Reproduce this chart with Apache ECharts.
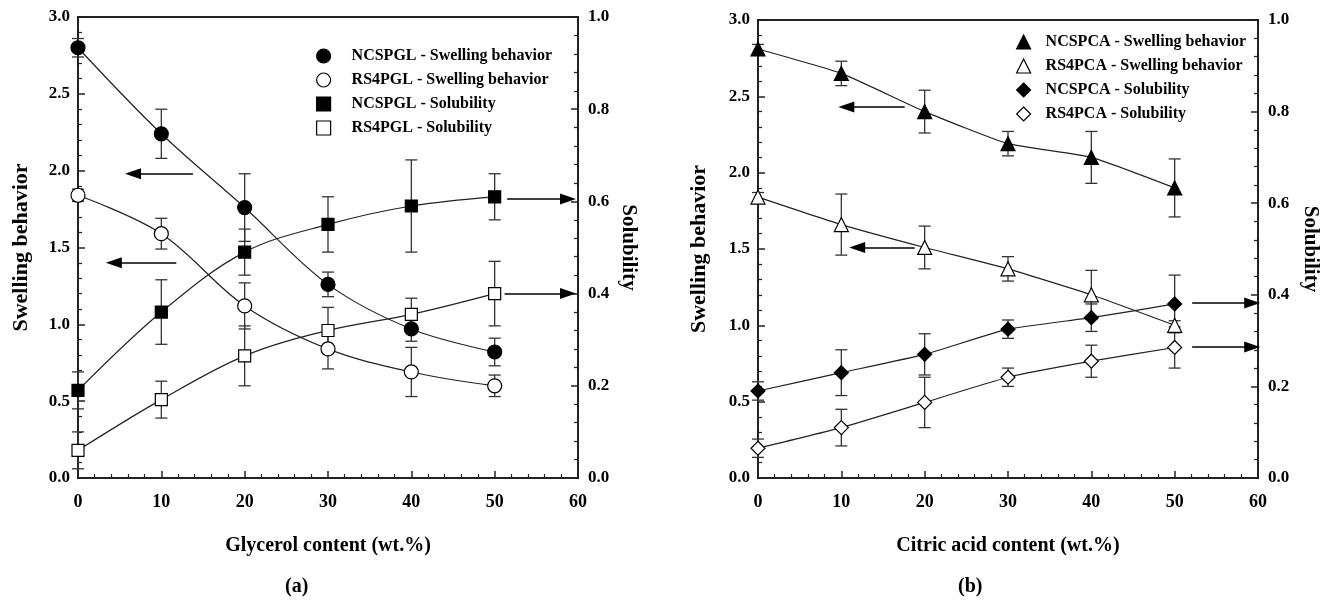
<!DOCTYPE html>
<html>
<head>
  <meta charset="utf-8">
  <title>Swelling behavior and solubility</title>
  <script src="https://cdn.jsdelivr.net/npm/echarts@6/dist/echarts.min.js"></script>
  <style>
    * { margin: 0; padding: 0; }
    html, body, #chart { width: 1333px; height: 610px; overflow: hidden; background: #fff; }
  </style>
</head>
<body>
  <div id="chart"></div>
  <script>
    // x values shared by both panels (wt.%)
    var xVals = [0, 10, 20, 30, 40, 50];

    // (a) glycerol
    var ncspglSwell = [2.80, 2.24, 1.76, 1.26, 0.97, 0.82];
    var ncspglSwellErr = [0.06, 0.16, 0.22, 0.08, 0.08, 0.09];
    var rs4pglSwell = [1.84, 1.59, 1.12, 0.84, 0.69, 0.60];
    var rs4pglSwellErr = [0.04, 0.10, 0.15, 0.13, 0.16, 0.07];
    var ncspglSol = [0.19, 0.36, 0.49, 0.55, 0.59, 0.61];
    var ncspglSolErr = [0.04, 0.07, 0.05, 0.06, 0.10, 0.05];
    var rs4pglSol = [0.06, 0.17, 0.265, 0.32, 0.355, 0.40];
    var rs4pglSolErr = [0.04, 0.04, 0.065, 0.05, 0.035, 0.07];

    // (b) citric acid
    var ncspcaSwell = [2.81, 2.65, 2.40, 2.19, 2.10, 1.90];
    var ncspcaSwellErr = [0.03, 0.08, 0.14, 0.08, 0.17, 0.19];
    var rs4pcaSwell = [1.84, 1.66, 1.51, 1.37, 1.20, 1.00];
    var rs4pcaSwellErr = [0.03, 0.20, 0.14, 0.08, 0.16, 0.03];
    var ncspcaSol = [0.19, 0.23, 0.27, 0.325, 0.35, 0.38];
    var ncspcaSolErr = [0.02, 0.05, 0.045, 0.02, 0.03, 0.063];
    var rs4pcaSol = [0.065, 0.11, 0.165, 0.22, 0.255, 0.285];
    var rs4pcaSolErr = [0.02, 0.04, 0.055, 0.02, 0.035, 0.045];

    // arrows pointing to the axis each curve belongs to: [xFrom, xTo, y]
    var arrowsA_left = [[13.8, 6.6, 1.98], [11.8, 4.3, 1.40]];
    var arrowsA_right = [[51.5, 58.8, 0.605], [51.2, 58.8, 0.40]];
    var arrowsB_left = [[17.6, 10.6, 2.43], [18.8, 11.9, 1.51]];
    var arrowsB_right = [[52.1, 59.3, 0.382], [52.1, 59.3, 0.286]];

    var FONT = "'Liberation Serif', 'Times New Roman', serif";

    function arrowMark(list) {
      return {
        silent: true,
        symbol: ['none', 'triangle'],
        symbolSize: [11, 16],
        label: { show: false },
        lineStyle: { color: '#000', width: 1.5, type: 'solid' },
        emphasis: { disabled: true },
        data: list.map(function (a) {
          return [{ coord: [a[0], a[2]] }, { coord: [a[1], a[2]] }];
        })
      };
    }

    function errSeries(grid, yi, ys, errs) {
      return {
        type: 'custom',
        xAxisIndex: grid,
        yAxisIndex: grid * 2 + yi,
        z: 1,
        silent: true,
        encode: { x: 0, y: 1 },
        data: xVals.map(function (x, i) { return [x, ys[i], errs[i]]; }),
        renderItem: function (params, api) {
          var x = api.value(0), y = api.value(1), e = api.value(2);
          var t = api.coord([x, y + e]), b = api.coord([x, y - e]);
          var w = 6, st = { stroke: '#333', lineWidth: 1.3 };
          return {
            type: 'group',
            children: [
              { type: 'line', shape: { x1: t[0], y1: t[1], x2: b[0], y2: b[1] }, style: st },
              { type: 'line', shape: { x1: t[0] - w, y1: t[1], x2: t[0] + w, y2: t[1] }, style: st },
              { type: 'line', shape: { x1: b[0] - w, y1: b[1], x2: b[0] + w, y2: b[1] }, style: st }
            ]
          };
        }
      };
    }

    function lineSeries(name, grid, yi, ys, symbol, filled, smooth, arrows) {
      var s = {
        name: name,
        type: 'line',
        xAxisIndex: grid,
        yAxisIndex: grid * 2 + yi,
        z: 3,
        smooth: smooth,
        symbol: symbol,
        symbolSize: symbol === 'rect' ? 12 : 14,
        showAllSymbol: true,
        data: xVals.map(function (x, i) { return [x, ys[i]]; }),
        itemStyle: { color: filled ? '#000' : '#fff', borderColor: '#000', borderWidth: 1.2 },
        lineStyle: { color: '#222', width: 1.2 },
        emphasis: { disabled: true }
      };
      if (arrows) s.markLine = arrowMark(arrows);
      return s;
    }

    function legendItem(name, icon, filled) {
      return {
        name: name, icon: icon,
        itemStyle: { color: filled ? '#000' : '#fff', borderColor: '#000', borderWidth: 1.2 }
      };
    }

    function xAxis(grid, name) {
      return {
        gridIndex: grid, type: 'value', min: 0, max: 60, interval: 10,
        name: name, nameLocation: 'middle', nameGap: 58,
        nameTextStyle: { fontFamily: FONT, fontWeight: 'bold', fontSize: 20, color: '#000' },
        axisLine: { onZero: false, lineStyle: { color: '#222', width: 2 } },
        axisTick: { inside: true, length: 7, lineStyle: { color: '#222', width: 1.5 } },
        minorTick: { show: true, splitNumber: 5, length: 4, lineStyle: { color: '#222', width: 1.2 } },
        axisLabel: { margin: 15, fontFamily: FONT, fontWeight: 'bold', fontSize: 18, color: '#000' },
        splitLine: { show: false }
      };
    }

    function yAxis(grid, pos, max, interval, name, gap, rot, size) {
      return {
        gridIndex: grid, type: 'value', position: pos, min: 0, max: max, interval: interval,
        name: name, nameLocation: 'middle', nameGap: gap, nameRotate: rot,
        nameTextStyle: { fontFamily: FONT, fontWeight: 'bold', fontSize: size, color: '#000' },
        axisLine: { show: true, onZero: false, lineStyle: { color: '#222', width: 2 } },
        axisTick: { inside: true, length: 7, lineStyle: { color: '#222', width: 1.5 } },
        minorTick: { show: true, splitNumber: 5, length: 4, lineStyle: { color: '#222', width: 1.2 } },
        axisLabel: {
          margin: pos === 'left' ? 8 : 10, fontFamily: FONT, fontWeight: 'bold', fontSize: 17, color: '#000',
          formatter: function (v) { return v.toFixed(1); }
        },
        splitLine: { show: false }
      };
    }

    var legendBase = {
      orient: 'vertical', itemWidth: 14, itemHeight: 14, itemGap: 8,
      selectedMode: false, inactiveColor: '#000'
    };

    var option = {
      animation: false,
      backgroundColor: '#fff',
      grid: [
        { left: 78, right: 755, top: 17, bottom: 132, show: true, borderColor: '#222', borderWidth: 2 },
        { left: 758, right: 75, top: 20, bottom: 132, show: true, borderColor: '#222', borderWidth: 2 }
      ],
      xAxis: [xAxis(0, 'Glycerol content (wt.%)'), xAxis(1, 'Citric acid content (wt.%)')],
      yAxis: [
        yAxis(0, 'left', 3, 0.5, 'Swelling behavior', 46, 90, 22),
        yAxis(0, 'right', 1, 0.2, 'Solubility', 40, -90, 21),
        yAxis(1, 'left', 3, 0.5, 'Swelling behavior', 48, 90, 22),
        yAxis(1, 'right', 1, 0.2, 'Solubility', 42, -90, 21)
      ],
      legend: [
        Object.assign({}, legendBase, {
          left: 311, top: 43,
          textStyle: { fontFamily: FONT, fontWeight: 'bold', fontSize: 16, color: '#000', padding: [0, 0, 0, 16] },
          data: [
            legendItem('NCSPGL - Swelling behavior', 'circle', true),
            legendItem('RS4PGL - Swelling behavior', 'circle', false),
            legendItem('NCSPGL - Solubility', 'rect', true),
            legendItem('RS4PGL - Solubility', 'rect', false)
          ]
        }),
        Object.assign({}, legendBase, {
          left: 1011, top: 29,
          textStyle: { fontFamily: FONT, fontWeight: 'bold', fontSize: 16, color: '#000', padding: [0, 0, 0, 10] },
          data: [
            legendItem('NCSPCA - Swelling behavior', 'triangle', true),
            legendItem('RS4PCA - Swelling behavior', 'triangle', false),
            legendItem('NCSPCA - Solubility', 'diamond', true),
            legendItem('RS4PCA - Solubility', 'diamond', false)
          ]
        })
      ],
      graphic: [
        { type: 'text', left: 285, top: 577, style: { text: '(a)', font: 'bold 20px ' + FONT, fill: '#000' } },
        { type: 'text', left: 958, top: 577, style: { text: '(b)', font: 'bold 20px ' + FONT, fill: '#000' } }
      ],
      series: [
        errSeries(0, 0, ncspglSwell, ncspglSwellErr),
        errSeries(0, 0, rs4pglSwell, rs4pglSwellErr),
        errSeries(0, 1, ncspglSol, ncspglSolErr),
        errSeries(0, 1, rs4pglSol, rs4pglSolErr),
        lineSeries('NCSPGL - Swelling behavior', 0, 0, ncspglSwell, 'circle', true, 0.35, arrowsA_left),
        lineSeries('RS4PGL - Swelling behavior', 0, 0, rs4pglSwell, 'circle', false, 0.35),
        lineSeries('NCSPGL - Solubility', 0, 1, ncspglSol, 'rect', true, 0.35, arrowsA_right),
        lineSeries('RS4PGL - Solubility', 0, 1, rs4pglSol, 'rect', false, 0.35),

        errSeries(1, 0, ncspcaSwell, ncspcaSwellErr),
        errSeries(1, 0, rs4pcaSwell, rs4pcaSwellErr),
        errSeries(1, 1, ncspcaSol, ncspcaSolErr),
        errSeries(1, 1, rs4pcaSol, rs4pcaSolErr),
        lineSeries('NCSPCA - Swelling behavior', 1, 0, ncspcaSwell, 'triangle', true, 0.15, arrowsB_left),
        lineSeries('RS4PCA - Swelling behavior', 1, 0, rs4pcaSwell, 'triangle', false, 0.15),
        lineSeries('NCSPCA - Solubility', 1, 1, ncspcaSol, 'diamond', true, 0.15, arrowsB_right),
        lineSeries('RS4PCA - Solubility', 1, 1, rs4pcaSol, 'diamond', false, 0.15)
      ]
    };

    var chart = echarts.init(document.getElementById('chart'));
    chart.setOption(option);
  </script>
</body>
</html>
